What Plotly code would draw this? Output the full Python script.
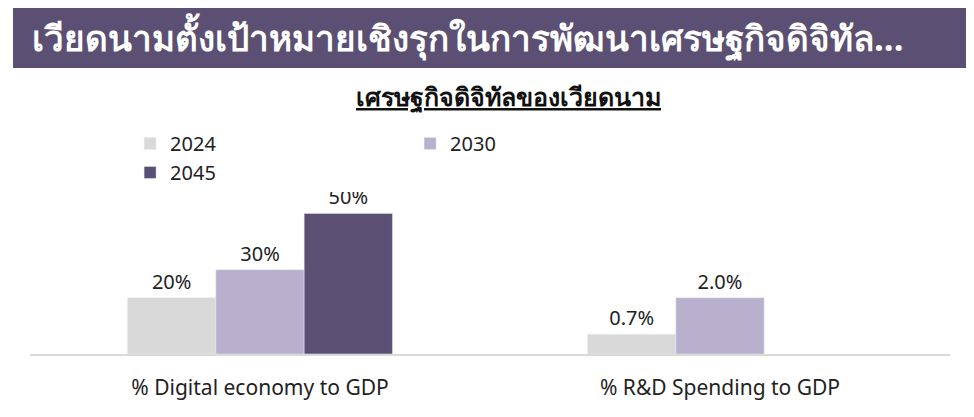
import plotly.graph_objects as go

# data
categories = ["% Digital economy to GDP", "% R&D Spending to GDP"]
years = ["2024", "2030", "2045"]
digital_economy = [20, 30, 50]      # % of GDP
rnd_spending = [0.7, 2.0, None]     # % of GDP
colors = ["#d9d9d9", "#b8b0cc", "#5b5073"]

title = "เวียดนามตั้งเป้าหมายเชิงรุกในการพัฒนาเศรษฐกิจดิจิทัล..."
subtitle = "<b><u>เศรษฐกิจดิจิทัลของเวียดนาม</u></b>"

FONT = "Noto Sans, Lato, sans-serif"
w = 0.192

fig = go.Figure()
for i, year in enumerate(years):
    offset = (i - 1.5) * w
    fig.add_bar(
        x=[0], y=[digital_economy[i]], name=year, marker_color=colors[i],
        width=w, offset=offset, text=[f"{digital_economy[i]}%"],
        textposition="outside", textfont=dict(size=20, color="#222"),
        cliponaxis=False, legendgroup=year, yaxis="y",
    )
    if rnd_spending[i] is not None:
        fig.add_bar(
            x=[1], y=[rnd_spending[i]], name=year, marker_color=colors[i],
            width=w, offset=offset, text=[f"{rnd_spending[i]:.1f}%"],
            textposition="outside", textfont=dict(size=20, color="#222"),
            cliponaxis=False, legendgroup=year, showlegend=False, yaxis="y2",
        )

fig.update_layout(
    width=974, height=417,
    margin=dict(l=22, r=32, t=166, b=71),
    paper_bgcolor="white", plot_bgcolor="white",
    font=dict(family=FONT, color="#222"),
    barmode="overlay",
    showlegend=True,
    legend=dict(orientation="h", x=0.18, y=1.089, xanchor="left", yanchor="middle",
                entrywidth=235, font=dict(size=20), traceorder="normal"),
    xaxis=dict(range=[-0.5, 1.5], tickvals=[0, 1], ticktext=categories,
               tickfont=dict(size=21), showgrid=False, zeroline=False,
               showline=True, linecolor="#d9d9d9", linewidth=1.5, ticks="",
               ticklabelstandoff=14),
    yaxis=dict(range=[0, 64], visible=False),
    yaxis2=dict(range=[0, 6.4], visible=False, overlaying="y"),
    shapes=[dict(type="rect", xref="paper", yref="paper",
                 x0=-0.0185, x1=1.028, y0=1.589, y1=1.967,
                 fillcolor="#5b5073", line_width=0, layer="below")],
    annotations=[
        dict(text=f"<b>{title}</b>", xref="paper", yref="paper", x=0, y=1.756,
             xanchor="left", yanchor="middle", showarrow=False,
             font=dict(size=35, color="white")),
        dict(text=subtitle, xref="paper", yref="paper", x=0.52, y=1.428,
             xanchor="center", yanchor="middle", showarrow=False,
             font=dict(size=25, color="#111")),
    ],
)

fig.write_html("out.html")
